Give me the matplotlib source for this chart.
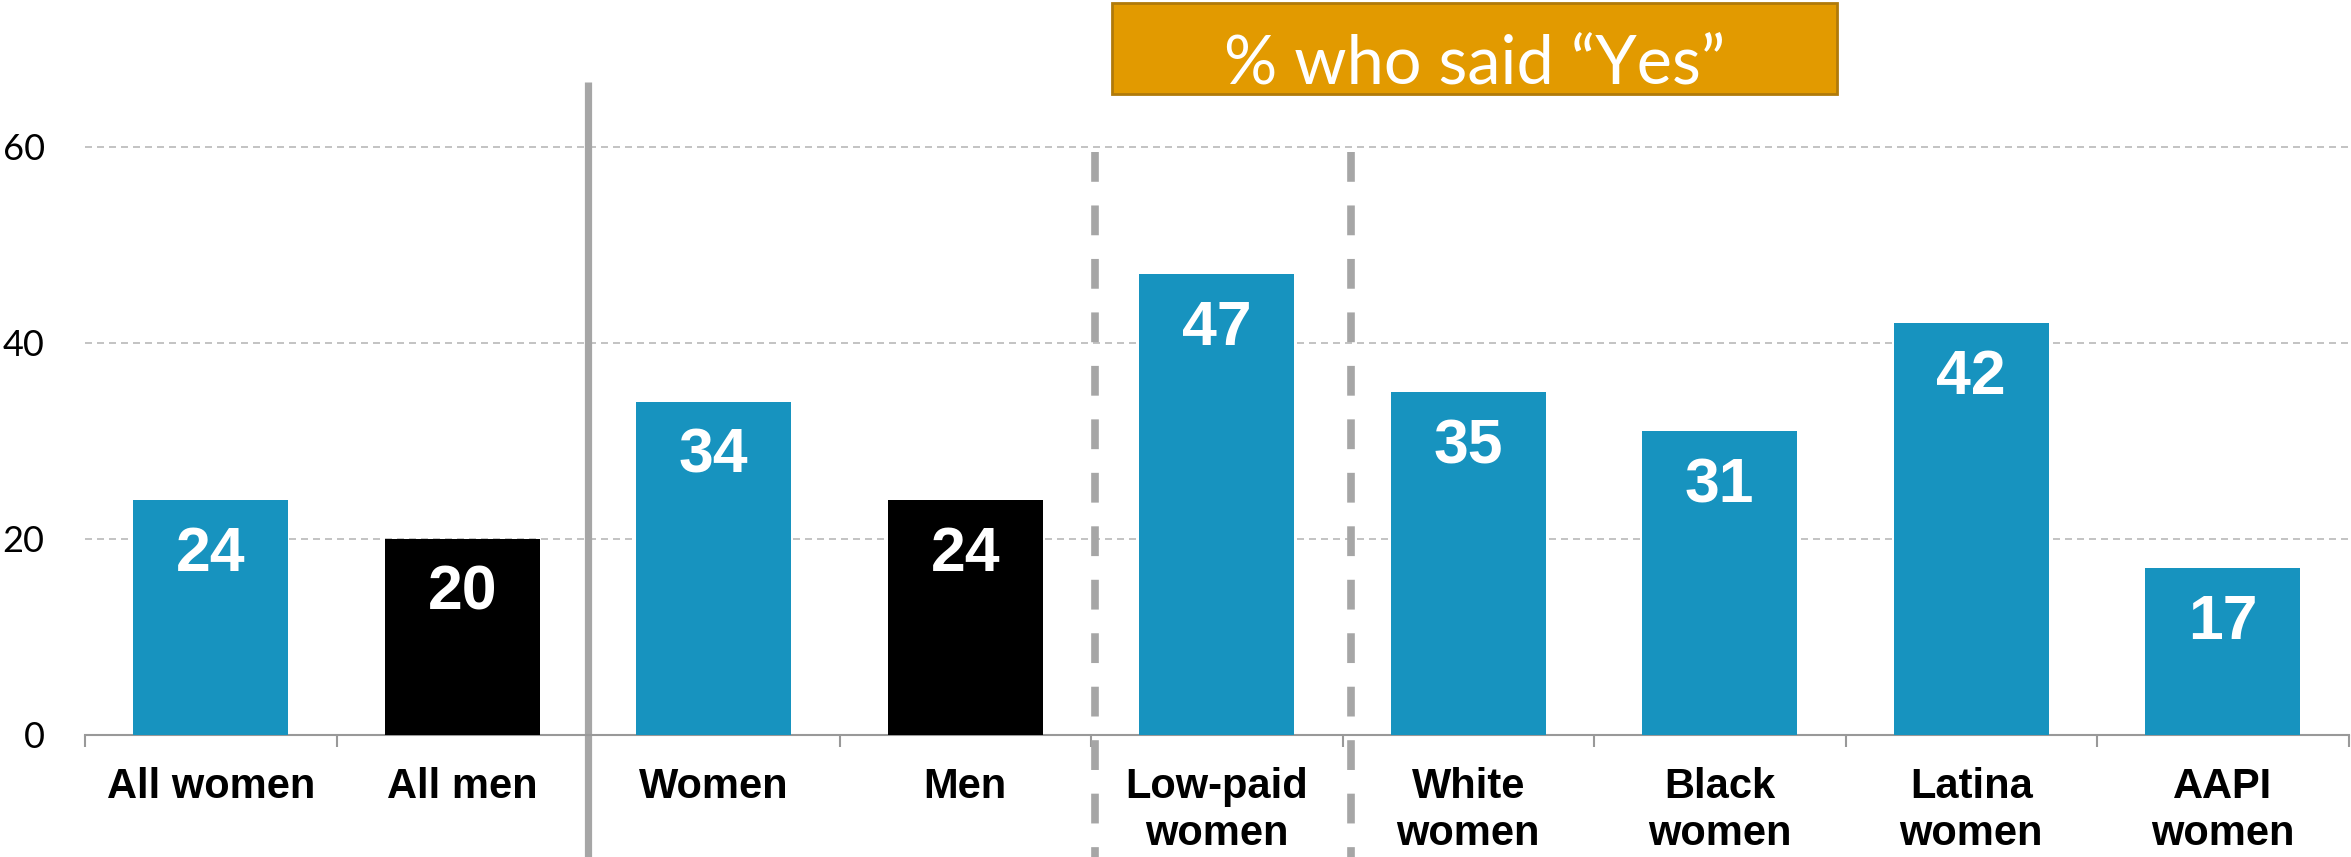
import matplotlib
from matplotlib import pyplot as plt
from matplotlib.patches import Rectangle
import matplotlib.ticker as ticker

matplotlib.use('Agg')

# Survey answers by group
categories = ['All women', 'All men', 'Women', 'Men', 'Low-paid\nwomen',
              'White\nwomen', 'Black\nwomen', 'Latina\nwomen', 'AAPI\nwomen']
values = [24, 20, 34, 24, 47, 35, 31, 42, 17]
is_men = [False, True, False, True, False, False, False, False, False]
y_ticks = [0, 20, 40, 60]
title = '% who said \u201cYes\u201d'

BLUE = '#1793BF'
GREY = '#A6A6A6'

fig = plt.figure(figsize=(23.51, 8.57), dpi=100)
ax = fig.add_axes([85 / 2351, 122 / 857, 2263.5 / 2351, 735 / 857])

x = list(range(len(categories)))
colors = ['black' if m else BLUE for m in is_men]
bars = ax.bar(x, values, width=0.615, color=colors, zorder=3)

# Value labels inside the top of each bar
for bar, v in zip(bars, values):
    ax.annotate(str(v), (bar.get_x() + bar.get_width() / 2, v),
                xytext=(0, -18), textcoords='offset points',
                ha='center', va='top', color='white', fontsize=45,
                fontweight='bold', family='Liberation Sans', zorder=4)

ax.set_xlim(-0.5, len(categories) - 0.5)
ax.set_ylim(0, 75)

# Axis styling: only the bottom spine, ticks between categories
for side in ['left', 'right', 'top']:
    ax.spines[side].set_visible(False)
ax.spines['bottom'].set_color('#999999')
ax.spines['bottom'].set_linewidth(1.5)

ax.set_xticks(x)
ax.set_xticklabels(categories, fontsize=30, fontweight='bold',
                   family='Liberation Sans', linespacing=1.24)
ax.xaxis.set_minor_locator(ticker.FixedLocator([i - 0.5 for i in range(len(categories) + 1)]))
ax.tick_params(axis='x', which='major', length=0, pad=23)
ax.tick_params(axis='x', which='minor', length=8.6, width=1.5, color='#999999', direction='out')

ax.set_yticks(y_ticks)
ax.tick_params(axis='y', length=0, pad=29, labelsize=26)
for lbl in ax.get_yticklabels():
    lbl.set_family('Lato')

# Dashed horizontal gridlines behind the bars
ax.yaxis.grid(True, color='#C4C4C4', linewidth=1.44, linestyle=(0, (3.5, 2.5)), zorder=0)
ax.set_axisbelow(True)
for line in ax.get_ygridlines()[:1]:
    line.set_visible(False)

# Group separators
ax.plot([1.5, 1.5], [66.6, -13], color=GREY, linewidth=5.2, clip_on=False, zorder=2,
        solid_capstyle='butt')
for sx in [3.515, 4.535]:
    ax.plot([sx, sx], [59.5, -13], color=GREY, linewidth=5.5, clip_on=False, zorder=2,
            linestyle=(0, (3.9, 3.1)))

# Header box
fig.add_artist(Rectangle((1112 / 2351, 1 - 94 / 857), 725 / 2351, 91 / 857,
                         transform=fig.transFigure, facecolor='#E29A00',
                         edgecolor='#B07A0A', linewidth=2))
fig.text(1474.5 / 2351, 1 - 83 / 857, title, ha='center', va='baseline',
         color='white', fontsize=48, family='Lato')

fig.savefig('out.png', dpi=100)
